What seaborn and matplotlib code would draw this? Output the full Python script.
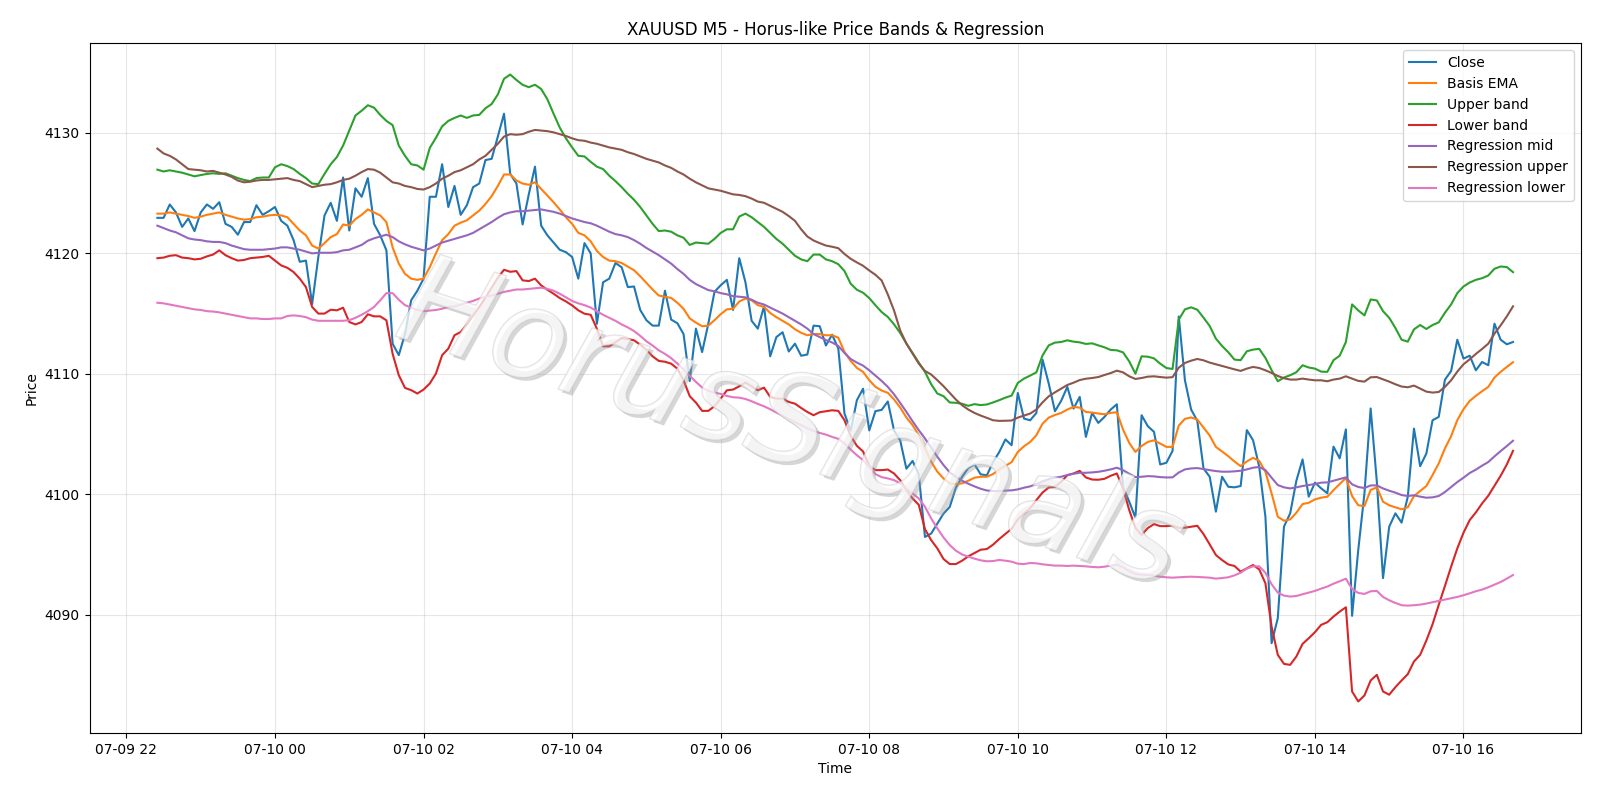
import matplotlib
matplotlib.use("Agg")
import matplotlib.pyplot as plt
import matplotlib.dates as mdates
import matplotlib.patheffects as pe
import seaborn as sns
import pandas as pd

# 5 minute bars, 07-09 22:25 -> 07-10 16:40
start_time = "2025-07-09 22:25"
n_bars = 220
bar_freq = "5min"

close = [
    4122.95, 4122.95, 4124.06, 4123.4, 4122.2, 4122.9, 4121.85, 4123.4, 4124.06, 4123.7,
    4124.25, 4122.45, 4122.2, 4121.55, 4122.6, 4122.6, 4124.0, 4123.2, 4123.5, 4123.85,
    4122.7, 4122.3, 4121.1, 4119.3, 4119.4, 4115.8, 4119.7, 4123.15, 4124.2, 4122.7,
    4126.3, 4121.9, 4125.4, 4124.7, 4126.25, 4122.45, 4121.5, 4120.25, 4112.5, 4111.55,
    4113.3, 4116.1, 4116.9, 4117.9, 4124.7, 4124.7, 4127.4, 4123.85, 4125.6, 4123.2,
    4124.0, 4125.5, 4125.8, 4127.75, 4127.85, 4129.7, 4131.6, 4126.6, 4125.8, 4122.4,
    4124.9, 4127.2, 4122.3, 4121.5, 4120.9, 4120.3, 4120.1, 4119.7, 4117.9, 4120.85,
    4120.0, 4114.15, 4117.6, 4117.9, 4119.2, 4118.85, 4117.2, 4117.25, 4115.3, 4114.45,
    4114.0, 4114.0, 4116.9, 4114.5, 4114.2, 4113.3, 4109.4, 4113.75, 4111.8, 4114.15,
    4116.8, 4117.35, 4117.8, 4115.3, 4119.6, 4117.6, 4114.4, 4113.75, 4115.6, 4111.45,
    4113.05, 4113.45, 4111.85, 4112.5, 4111.5, 4111.6, 4114.0, 4113.95, 4112.35, 4113.25,
    4112.1, 4106.7, 4105.26, 4107.8, 4108.76, 4105.3, 4106.9, 4107.0, 4107.7, 4105.3,
    4104.47, 4102.12, 4102.76, 4101.65, 4096.45, 4096.73, 4097.56, 4098.39, 4098.94, 4100.55,
    4101.43, 4102.18, 4102.48, 4101.65, 4101.57, 4102.67, 4103.5, 4104.55, 4104.07, 4108.41,
    4106.28, 4106.14, 4106.75, 4111.17, 4109.18, 4106.89, 4107.75, 4108.91, 4107.11, 4108.08,
    4104.76, 4106.75, 4105.92, 4106.42, 4107.03, 4107.47, 4100.62, 4099.38, 4098.05, 4106.56,
    4105.65, 4105.18, 4102.47, 4102.61, 4103.6, 4114.76, 4109.46, 4107.03, 4106.09, 4102.14,
    4101.45, 4098.55, 4101.45, 4100.62, 4100.57, 4100.68, 4105.32, 4104.49, 4102.28, 4098.13,
    4087.63, 4089.71, 4097.31, 4098.41, 4101.12, 4102.89, 4099.8, 4100.96, 4100.49, 4100.08,
    4103.95, 4102.98, 4105.38, 4089.9, 4095.38, 4100.08, 4107.12, 4101.04, 4093.03, 4097.31,
    4098.41, 4097.64, 4099.79, 4105.45, 4102.33, 4103.38, 4106.14, 4106.42, 4109.51, 4110.23,
    4112.83, 4111.26, 4111.5, 4110.29, 4110.98, 4110.71, 4114.16, 4112.83, 4112.45, 4112.64,
]

basis_ema = [
    4123.3, 4123.3, 4123.4, 4123.3, 4123.2, 4123.1, 4122.95, 4123.05, 4123.2, 4123.3,
    4123.4, 4123.2, 4123.05, 4122.9, 4122.8, 4122.85, 4123.0, 4123.05, 4123.15, 4123.2,
    4123.15, 4123.0, 4122.45, 4121.9, 4121.5, 4120.65, 4120.4, 4120.85, 4121.35, 4121.6,
    4122.4, 4122.3, 4122.85, 4123.2, 4123.65, 4123.4, 4123.15, 4122.6, 4120.5, 4119.15,
    4118.3, 4117.9, 4117.8, 4117.9, 4118.85, 4120.0, 4121.1, 4121.6, 4122.3, 4122.55,
    4122.75, 4123.15, 4123.55, 4124.1, 4124.75, 4125.6, 4126.55, 4126.55, 4126.05, 4125.8,
    4125.7, 4125.9, 4125.35, 4124.8, 4124.25, 4123.65, 4123.0, 4122.45, 4121.7, 4121.5,
    4121.0, 4120.2, 4119.7, 4119.4, 4119.35, 4119.2, 4118.9, 4118.6, 4118.1, 4117.55,
    4117.0, 4116.5, 4116.4, 4116.3, 4115.9, 4115.4, 4114.6, 4114.25, 4113.95, 4114.0,
    4114.45, 4114.95, 4115.35, 4115.4, 4116.0, 4116.25, 4116.1, 4115.7, 4115.55, 4115.05,
    4114.7, 4114.4, 4114.1, 4113.7, 4113.4, 4113.2, 4113.3, 4113.3, 4113.2, 4113.2,
    4113.0, 4111.81, 4111.07, 4110.49, 4110.16, 4109.47, 4108.92, 4108.61, 4108.42, 4107.87,
    4107.2, 4106.37, 4105.74, 4104.91, 4103.8, 4102.7, 4101.87, 4101.31, 4100.9, 4100.84,
    4100.9, 4101.12, 4101.37, 4101.45, 4101.45, 4101.67, 4102.06, 4102.35, 4102.66, 4103.51,
    4103.98, 4104.34, 4104.9, 4105.86, 4106.36, 4106.58, 4106.75, 4107.03, 4107.25, 4107.19,
    4106.83, 4106.78, 4106.7, 4106.64, 4106.75, 4106.81, 4105.37, 4104.26, 4103.51, 4104.01,
    4104.34, 4104.48, 4104.21, 4103.93, 4103.93, 4105.7, 4106.26, 4106.37, 4106.2, 4105.54,
    4104.87, 4103.93, 4103.55, 4103.16, 4102.72, 4102.33, 4102.72, 4103.02, 4102.77, 4101.86,
    4100.07, 4098.13, 4097.8, 4097.91, 4098.46, 4099.18, 4099.29, 4099.57, 4099.71, 4099.79,
    4100.34, 4100.84, 4101.35, 4099.85, 4099.08, 4099.02, 4100.35, 4100.57, 4099.38, 4099.08,
    4098.91, 4098.75, 4098.91, 4099.85, 4100.26, 4100.68, 4101.59, 4102.56, 4103.8, 4104.82,
    4106.15, 4107.06, 4107.75, 4108.17, 4108.55, 4108.91, 4109.69, 4110.16, 4110.57, 4110.96,
]

upper_band = [
    4126.95, 4126.8, 4126.9, 4126.8, 4126.7, 4126.55, 4126.4, 4126.5, 4126.6, 4126.65,
    4126.6, 4126.65, 4126.45, 4126.25, 4126.1, 4126.0, 4126.25, 4126.3, 4126.3, 4127.15,
    4127.4, 4127.25, 4127.0, 4126.6, 4126.25, 4125.8, 4125.75, 4126.6, 4127.4, 4128.0,
    4128.95, 4130.2, 4131.45, 4131.85, 4132.3, 4132.1, 4131.5, 4131.0, 4130.65, 4128.95,
    4128.1, 4127.4, 4127.3, 4126.95, 4128.75, 4129.6, 4130.55, 4131.0, 4131.25, 4131.45,
    4131.25, 4131.45, 4131.5, 4132.05, 4132.4, 4133.2, 4134.5, 4134.85, 4134.4, 4134.0,
    4133.8, 4134.0, 4133.65, 4132.8, 4131.6, 4130.45, 4129.55, 4128.8, 4128.1, 4128.05,
    4127.6, 4127.2, 4127.0, 4126.45, 4126.0, 4125.5, 4124.95, 4124.45, 4123.85, 4123.15,
    4122.45, 4121.85, 4121.9, 4121.8, 4121.5, 4121.3, 4120.7, 4120.9, 4120.85, 4120.8,
    4121.2, 4121.7, 4122.0, 4122.0, 4123.06, 4123.3, 4123.0, 4122.6, 4122.2, 4121.7,
    4121.2, 4120.8, 4120.3, 4119.8, 4119.5, 4119.35, 4119.9, 4119.9, 4119.5, 4119.35,
    4119.1, 4118.53, 4117.48, 4116.98, 4116.73, 4116.29, 4115.69, 4115.13, 4114.72, 4114.11,
    4113.39, 4112.51, 4111.73, 4110.93, 4110.16, 4109.14, 4108.36, 4108.14, 4107.62, 4107.59,
    4107.51, 4107.34, 4107.48, 4107.4, 4107.45, 4107.62, 4107.81, 4108.02, 4108.19, 4109.24,
    4109.6, 4109.85, 4110.12, 4111.53, 4112.36, 4112.59, 4112.64, 4112.78, 4112.67, 4112.61,
    4112.48, 4112.53, 4112.36, 4112.2, 4111.98, 4111.95, 4111.78, 4111.03, 4110.01, 4111.45,
    4111.42, 4111.28, 4110.84, 4110.48, 4110.4, 4114.5, 4115.35, 4115.52, 4115.32, 4114.66,
    4113.97, 4112.92, 4112.31, 4111.79, 4111.18, 4111.13, 4111.87, 4112.01, 4112.07, 4111.32,
    4110.3, 4109.38, 4109.69, 4109.88, 4110.13, 4110.71, 4110.52, 4110.43, 4110.18, 4110.16,
    4111.13, 4111.5, 4112.64, 4115.76, 4115.26, 4114.85, 4116.17, 4116.09, 4115.2, 4114.65,
    4113.8, 4112.83, 4112.67, 4113.69, 4114.05, 4113.72, 4114.05, 4114.27, 4115.07, 4115.76,
    4116.7, 4117.25, 4117.58, 4117.8, 4117.94, 4118.16, 4118.72, 4118.91, 4118.86, 4118.44,
]

lower_band = [
    4119.6, 4119.65, 4119.8, 4119.85, 4119.65, 4119.6, 4119.5, 4119.55, 4119.75, 4119.9,
    4120.25, 4119.85, 4119.6, 4119.4, 4119.45, 4119.6, 4119.65, 4119.7, 4119.8, 4119.4,
    4119.0, 4118.8, 4118.45, 4117.9, 4117.2, 4115.55, 4115.0, 4115.0, 4115.32, 4115.27,
    4115.49, 4114.3, 4114.1, 4114.3, 4114.94, 4114.77, 4114.77, 4114.44, 4111.67, 4109.88,
    4108.83, 4108.64, 4108.36, 4108.69, 4109.19, 4110.02, 4111.54, 4112.09, 4113.2, 4113.47,
    4114.1, 4114.85, 4115.54, 4116.32, 4117.15, 4117.98, 4118.64, 4118.47, 4118.53, 4117.76,
    4117.7, 4117.9, 4117.34, 4116.98, 4116.65, 4116.29, 4116.01, 4115.68, 4115.27, 4114.99,
    4114.9, 4113.74, 4112.28, 4112.28, 4112.61, 4112.97, 4112.89, 4112.78, 4112.42, 4112.0,
    4111.45, 4111.07, 4111.0, 4110.84, 4110.43, 4109.46, 4108.14, 4107.61, 4106.92, 4106.92,
    4107.31, 4107.94, 4108.63, 4108.69, 4108.96, 4109.27, 4108.96, 4108.63, 4108.85, 4108.08,
    4107.94, 4107.94, 4107.66, 4107.52, 4107.16, 4106.83, 4106.56, 4106.81, 4106.89, 4106.97,
    4106.92, 4106.14, 4104.84, 4104.02, 4103.55, 4102.36, 4102.0, 4102.0, 4102.05, 4101.72,
    4101.17, 4100.34, 4099.65, 4099.12, 4097.1, 4096.19, 4095.5, 4094.62, 4094.2, 4094.2,
    4094.48, 4094.84, 4095.12, 4095.39, 4095.45, 4095.81, 4096.28, 4096.7, 4097.13, 4097.91,
    4098.4, 4098.84, 4099.51, 4100.14, 4100.56, 4100.61, 4101.03, 4101.58, 4101.72, 4101.94,
    4101.39, 4101.22, 4101.2, 4101.28, 4101.53, 4101.72, 4100.48, 4098.68, 4097.21, 4096.61,
    4097.19, 4097.52, 4097.35, 4097.35, 4097.4, 4097.2, 4097.22, 4097.3, 4097.38, 4096.69,
    4095.83, 4094.95, 4094.53, 4094.17, 4094.04, 4093.57, 4093.84, 4094.12, 4093.76, 4092.6,
    4089.0, 4086.66, 4085.91, 4085.83, 4086.52, 4087.57, 4088.04, 4088.54, 4089.15, 4089.37,
    4089.84, 4090.25, 4090.61, 4083.62, 4082.79, 4083.29, 4084.53, 4085.0, 4083.62, 4083.35,
    4083.98, 4084.53, 4085.06, 4086.11, 4086.66, 4087.85, 4089.2, 4090.81, 4092.38, 4093.98,
    4095.5, 4096.8, 4097.85, 4098.49, 4099.23, 4099.87, 4100.7, 4101.53, 4102.47, 4103.6,
]

reg_mid = [
    4122.3, 4122.1, 4121.9, 4121.75, 4121.5, 4121.25, 4121.15, 4121.1, 4121.0, 4120.95,
    4120.95, 4120.85, 4120.65, 4120.5, 4120.35, 4120.3, 4120.3, 4120.3, 4120.35, 4120.4,
    4120.5, 4120.5, 4120.4, 4120.3, 4120.15, 4120.0, 4120.05, 4120.05, 4120.05, 4120.1,
    4120.25, 4120.3, 4120.5, 4120.7, 4121.05, 4121.25, 4121.4, 4121.55, 4121.35, 4121.0,
    4120.75, 4120.55, 4120.4, 4120.25, 4120.4, 4120.65, 4120.9, 4121.05, 4121.2, 4121.35,
    4121.5, 4121.7, 4122.0, 4122.3, 4122.6, 4122.95, 4123.25, 4123.4, 4123.5, 4123.5,
    4123.55, 4123.6, 4123.65, 4123.55, 4123.45, 4123.3, 4123.1, 4122.9, 4122.75, 4122.6,
    4122.5, 4122.3, 4122.05, 4121.8, 4121.6, 4121.5, 4121.35, 4121.1, 4120.8, 4120.45,
    4120.15, 4119.85, 4119.5, 4119.15, 4118.7, 4118.3, 4117.8, 4117.45, 4117.2, 4116.95,
    4116.85, 4116.7, 4116.6, 4116.45, 4116.4, 4116.35, 4116.15, 4115.9, 4115.75, 4115.5,
    4115.25, 4115.0, 4114.7, 4114.4, 4114.1, 4113.75, 4113.3, 4113.05, 4112.8, 4112.6,
    4112.31, 4111.73, 4111.23, 4110.93, 4110.68, 4110.29, 4109.85, 4109.41, 4108.91, 4108.3,
    4107.58, 4106.84, 4106.06, 4105.32, 4104.63, 4103.88, 4103.11, 4102.42, 4101.81, 4101.45,
    4101.12, 4100.87, 4100.65, 4100.45, 4100.31, 4100.26, 4100.26, 4100.3, 4100.32, 4100.4,
    4100.54, 4100.65, 4100.84, 4101.06, 4101.26, 4101.37, 4101.45, 4101.59, 4101.7, 4101.78,
    4101.78, 4101.81, 4101.86, 4101.95, 4102.06, 4102.2, 4102.0, 4101.7, 4101.42, 4101.45,
    4101.5, 4101.48, 4101.42, 4101.39, 4101.4, 4101.8, 4102.06, 4102.14, 4102.17, 4102.09,
    4102.0, 4101.92, 4101.87, 4101.87, 4101.9, 4101.95, 4102.06, 4102.2, 4102.26, 4102.0,
    4101.37, 4100.76, 4100.57, 4100.48, 4100.57, 4100.68, 4100.76, 4100.85, 4100.96, 4100.98,
    4101.12, 4101.26, 4101.4, 4100.82, 4100.6, 4100.51, 4100.73, 4100.73, 4100.48, 4100.29,
    4100.13, 4099.93, 4099.85, 4099.91, 4099.8, 4099.71, 4099.74, 4099.85, 4100.18, 4100.6,
    4101.01, 4101.37, 4101.76, 4102.04, 4102.37, 4102.67, 4103.14, 4103.58, 4104.0, 4104.44,
]

reg_upper = [
    4128.7, 4128.3, 4128.1, 4127.8, 4127.4, 4127.0, 4126.95, 4126.9, 4126.8, 4126.85,
    4126.7, 4126.55, 4126.35, 4126.05, 4125.9, 4125.95, 4126.05, 4126.1, 4126.1, 4126.15,
    4126.2, 4126.25, 4126.1, 4126.0, 4125.75, 4125.5, 4125.6, 4125.7, 4125.75, 4125.9,
    4126.1, 4126.2, 4126.45, 4126.75, 4127.0, 4126.95, 4126.7, 4126.3, 4125.9, 4125.8,
    4125.6, 4125.5, 4125.35, 4125.3, 4125.5, 4125.8, 4126.2, 4126.45, 4126.75, 4126.9,
    4127.15, 4127.4, 4127.8, 4128.1, 4128.6, 4129.1, 4129.7, 4129.9, 4129.85, 4129.9,
    4130.1, 4130.25, 4130.2, 4130.15, 4130.05, 4129.9, 4129.75, 4129.55, 4129.4, 4129.35,
    4129.2, 4129.1, 4128.95, 4128.8, 4128.7, 4128.6, 4128.4, 4128.25, 4128.05, 4127.85,
    4127.7, 4127.55, 4127.3, 4127.1, 4126.8, 4126.55, 4126.2, 4125.9, 4125.65, 4125.4,
    4125.3, 4125.2, 4125.05, 4124.9, 4124.85, 4124.75, 4124.55, 4124.3, 4124.2, 4123.95,
    4123.7, 4123.45, 4123.1, 4122.7, 4122.0, 4121.4, 4121.07, 4120.85, 4120.65, 4120.55,
    4120.43, 4119.95, 4119.55, 4119.25, 4118.97, 4118.58, 4118.22, 4117.75, 4116.59, 4115.26,
    4113.6, 4112.51, 4111.68, 4110.85, 4110.24, 4109.94, 4109.47, 4108.97, 4108.41, 4107.86,
    4107.39, 4107.03, 4106.75, 4106.53, 4106.34, 4106.14, 4106.09, 4106.1, 4106.12, 4106.36,
    4106.53, 4106.7, 4107.03, 4107.63, 4108.13, 4108.46, 4108.77, 4109.07, 4109.26, 4109.48,
    4109.59, 4109.65, 4109.73, 4109.9, 4110.06, 4110.26, 4110.12, 4109.79, 4109.57, 4109.65,
    4109.76, 4109.79, 4109.73, 4109.68, 4109.72, 4110.51, 4110.9, 4111.09, 4111.23, 4111.12,
    4110.93, 4110.79, 4110.65, 4110.51, 4110.37, 4110.24, 4110.43, 4110.57, 4110.48, 4110.29,
    4110.07, 4109.82, 4109.63, 4109.52, 4109.52, 4109.6, 4109.52, 4109.46, 4109.46, 4109.38,
    4109.52, 4109.6, 4109.79, 4109.6, 4109.41, 4109.35, 4109.71, 4109.73, 4109.54, 4109.35,
    4109.13, 4108.94, 4108.88, 4109.02, 4108.77, 4108.52, 4108.44, 4108.49, 4108.91, 4109.46,
    4110.18, 4110.79, 4111.2, 4111.65, 4112.06, 4112.5, 4113.33, 4114.02, 4114.77, 4115.6,
]

reg_lower = [
    4115.9, 4115.85, 4115.75, 4115.65, 4115.55, 4115.45, 4115.35, 4115.3, 4115.2, 4115.17,
    4115.1, 4115.0, 4114.9, 4114.8, 4114.7, 4114.6, 4114.6, 4114.55, 4114.55, 4114.6,
    4114.6, 4114.8, 4114.85, 4114.8, 4114.7, 4114.5, 4114.4, 4114.4, 4114.4, 4114.4,
    4114.4, 4114.45, 4114.65, 4114.9, 4115.2, 4115.55, 4116.1, 4116.7, 4116.7, 4116.15,
    4115.7, 4115.5, 4115.3, 4115.2, 4115.25, 4115.3, 4115.4, 4115.55, 4115.6, 4115.75,
    4115.9, 4116.05, 4116.25, 4116.4, 4116.5, 4116.65, 4116.8, 4116.9, 4117.0, 4117.0,
    4117.05, 4117.1, 4117.15, 4117.05, 4116.9, 4116.65, 4116.35, 4116.05, 4115.85, 4115.7,
    4115.5, 4115.2, 4114.9, 4114.65, 4114.4, 4114.1, 4113.85, 4113.55, 4113.15, 4112.7,
    4112.35, 4111.95, 4111.65, 4111.3, 4110.85, 4110.35, 4109.83, 4109.33, 4108.86, 4108.58,
    4108.44, 4108.33, 4108.16, 4108.05, 4108.02, 4107.91, 4107.72, 4107.5, 4107.3, 4107.06,
    4106.78, 4106.53, 4106.25, 4106.0, 4105.73, 4105.48, 4105.26, 4105.09, 4104.95, 4104.76,
    4104.6, 4104.21, 4103.71, 4103.24, 4102.83, 4102.27, 4101.67, 4101.42, 4101.31, 4101.17,
    4100.9, 4100.45, 4100.06, 4099.65, 4098.96, 4097.99, 4097.16, 4096.41, 4095.78, 4095.31,
    4095.0, 4094.81, 4094.65, 4094.51, 4094.43, 4094.45, 4094.54, 4094.48, 4094.4, 4094.23,
    4094.2, 4094.29, 4094.26, 4094.18, 4094.12, 4094.07, 4094.07, 4094.04, 4094.07, 4094.04,
    4094.01, 4093.96, 4093.93, 4093.98, 4094.07, 4094.15, 4093.93, 4093.62, 4093.37, 4093.32,
    4093.29, 4093.24, 4093.15, 4093.1, 4093.07, 4093.1, 4093.13, 4093.15, 4093.13, 4093.1,
    4093.07, 4092.99, 4093.04, 4093.1, 4093.26, 4093.48, 4093.82, 4094.01, 4094.01, 4093.48,
    4092.52, 4091.83, 4091.58, 4091.5, 4091.55, 4091.69, 4091.83, 4091.97, 4092.16, 4092.33,
    4092.57, 4092.77, 4092.99, 4092.13, 4091.8, 4091.72, 4091.94, 4091.97, 4091.47, 4091.19,
    4090.97, 4090.78, 4090.75, 4090.78, 4090.83, 4090.92, 4091.03, 4091.14, 4091.25, 4091.36,
    4091.47, 4091.61, 4091.77, 4091.94, 4092.08, 4092.27, 4092.49, 4092.71, 4092.99, 4093.29,
]

series_names = ["Close", "Basis EMA", "Upper band", "Lower band",
                "Regression mid", "Regression upper", "Regression lower"]
series_values = [close, basis_ema, upper_band, lower_band, reg_mid, reg_upper, reg_lower]
colors = sns.color_palette("tab10", 7)

df = pd.DataFrame({"time": pd.date_range(start_time, periods=n_bars, freq=bar_freq)})
for name, vals in zip(series_names, series_values):
    df[name] = vals

fig, ax = plt.subplots(figsize=(16, 8), dpi=100)

for name, col in zip(series_names, colors):
    sns.lineplot(data=df, x="time", y=name, color=col, linewidth=1.5, label=name, ax=ax)

ax.set_title("XAUUSD M5 - Horus-like Price Bands & Regression", fontsize=12)
ax.set_xlabel("Time")
ax.set_ylabel("Price")
ax.grid(True, alpha=0.3)
ax.xaxis.set_major_locator(mdates.HourLocator(byhour=range(0, 24, 2)))
ax.xaxis.set_major_formatter(mdates.DateFormatter("%m-%d %H"))
ax.legend(loc="upper right")

# watermark: see-through white fill, thin grey outline, soft shadow
ax.text(0.47, 0.442, "HorusSignals", transform=ax.transAxes,
        fontsize=90, style="italic", color="white", alpha=0.5,
        rotation=-18, ha="center", va="center", zorder=10,
        path_effects=[pe.SimplePatchShadow(offset=(2.5, -2.5), shadow_rgbFace="#9a9a9a", alpha=0.4),
                      pe.Stroke(linewidth=1.2, foreground="#c4c4c4"),
                      pe.Normal()])

plt.subplots_adjust(left=0.056, right=0.988, top=0.946, bottom=0.084)
plt.savefig("out.png")
